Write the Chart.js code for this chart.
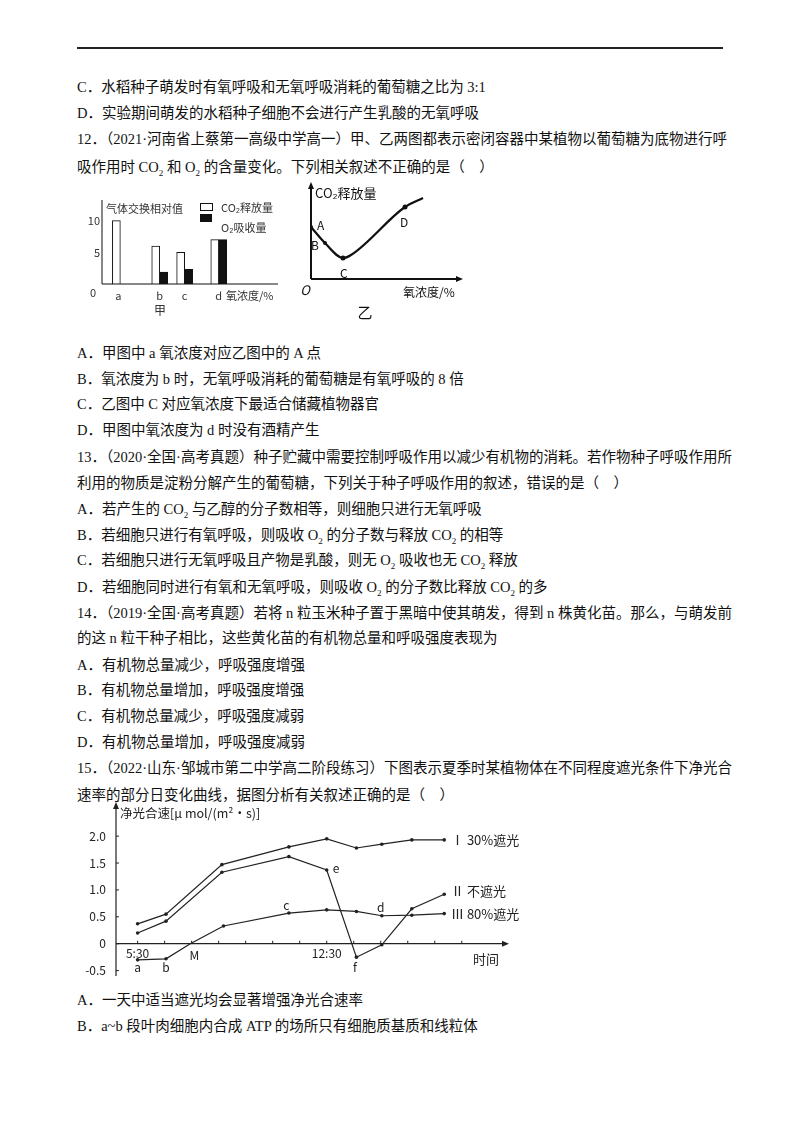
<!DOCTYPE html>
<html><head><meta charset="utf-8">
<script src="https://cdn.jsdelivr.net/npm/chart.js@4.4.0/dist/chart.umd.min.js"></script>
<style>
body{margin:0;width:800px;height:1132px;background:#fff;position:relative;font-family:"Liberation Serif","Noto Sans CJK SC",serif;color:#111;}
.l{position:absolute;left:77px;font-size:14.5px;line-height:20px;white-space:nowrap;}
.j{width:646px;text-align:justify;text-align-last:justify;}
sub{font-size:9px;line-height:0;}
#rule{position:absolute;left:77px;top:47px;width:646px;height:1.5px;background:#222;}
canvas{position:absolute;}
</style></head><body>
<div id="rule"></div>
<div class="l" style="top:77px">C．水稻种子萌发时有氧呼吸和无氧呼吸消耗的葡萄糖之比为 3:1</div>
<div class="l" style="top:103px">D．实验期间萌发的水稻种子细胞不会进行产生乳酸的无氧呼吸</div>
<div class="l j" style="top:129px">12．（2021·河南省上蔡第一高级中学高一）甲、乙两图都表示密闭容器中某植物以葡萄糖为底物进行呼</div>
<div class="l" style="top:157px">吸作用时 CO<sub>2</sub> 和 O<sub>2</sub> 的含量变化。下列相关叙述不正确的是（　）</div>
<div class="l" style="top:343px">A．甲图中 a 氧浓度对应乙图中的 A 点</div>
<div class="l" style="top:369px">B．氧浓度为 b 时，无氧呼吸消耗的葡萄糖是有氧呼吸的 8 倍</div>
<div class="l" style="top:394px">C．乙图中 C 对应氧浓度下最适合储藏植物器官</div>
<div class="l" style="top:420px">D．甲图中氧浓度为 d 时没有酒精产生</div>
<div class="l j" style="top:447px">13．（2020·全国·高考真题）种子贮藏中需要控制呼吸作用以减少有机物的消耗。若作物种子呼吸作用所</div>
<div class="l" style="top:473px">利用的物质是淀粉分解产生的葡萄糖，下列关于种子呼吸作用的叙述，错误的是（　）</div>
<div class="l" style="top:499px">A．若产生的 CO<sub>2</sub> 与乙醇的分子数相等，则细胞只进行无氧呼吸</div>
<div class="l" style="top:525px">B．若细胞只进行有氧呼吸，则吸收 O<sub>2</sub> 的分子数与释放 CO<sub>2</sub> 的相等</div>
<div class="l" style="top:550px">C．若细胞只进行无氧呼吸且产物是乳酸，则无 O<sub>2</sub> 吸收也无 CO<sub>2</sub> 释放</div>
<div class="l" style="top:577px">D．若细胞同时进行有氧和无氧呼吸，则吸收 O<sub>2</sub> 的分子数比释放 CO<sub>2</sub> 的多</div>
<div class="l j" style="top:603px">14．（2019·全国·高考真题）若将 n 粒玉米种子置于黑暗中使其萌发，得到 n 株黄化苗。那么，与萌发前</div>
<div class="l" style="top:628px">的这 n 粒干种子相比，这些黄化苗的有机物总量和呼吸强度表现为</div>
<div class="l" style="top:655px">A．有机物总量减少，呼吸强度增强</div>
<div class="l" style="top:680px">B．有机物总量增加，呼吸强度增强</div>
<div class="l" style="top:706px">C．有机物总量减少，呼吸强度减弱</div>
<div class="l" style="top:732px">D．有机物总量增加，呼吸强度减弱</div>
<div class="l j" style="top:758px">15．（2022·山东·邹城市第二中学高二阶段练习）下图表示夏季时某植物体在不同程度遮光条件下净光合</div>
<div class="l" style="top:785px">速率的部分日变化曲线，据图分析有关叙述正确的是（　）</div>
<div class="l" style="top:990px">A．一天中适当遮光均会显著增强净光合速率</div>
<div class="l" style="top:1016px">B．a~b 段叶肉细胞内合成 ATP 的场所只有细胞质基质和线粒体</div>
<canvas id="c1" style="left:80px;top:180px" width="200" height="145"></canvas>
<canvas id="c2" style="left:290px;top:180px" width="190" height="145"></canvas>
<canvas id="c3" style="left:80px;top:800px" width="450" height="180"></canvas>
<script>
// Chart 甲
const barCats=[0.9,3.9,5.8,8.4];
const barLabels=['a','b','c','d'];
const co2Release=[10,6,5,7];
const o2Absorb=[0,1.9,2.3,7];
// Chart 乙
const curveX=[0,14,32,40,94,112];
const curveY=[52,36,21,24,72,81];
// Chart 15
const hours=[0,1.05,3.12,5.6,7,8.1,9.04,10.15,11.35];
const s30=[0.37,0.55,1.47,1.8,1.95,1.78,1.85,1.93,1.93];
const sNone=[0.2,0.42,1.33,1.62,1.37,-0.25,-0.02,0.65,0.92];
const hours80=[0,1.05,1.95,3.18,5.6,7,8.1,9.04,10.15,11.35];
const s80=[-0.3,-0.28,0,0.33,0.57,0.63,0.6,0.52,0.53,0.56];
const yTicks=[2.0,1.5,1.0,0.5,0,-0.5];
const F='"Noto Sans CJK SC",sans-serif';
Chart.defaults.animation=false;Chart.defaults.responsive=false;
Chart.defaults.plugins.legend.display=false;Chart.defaults.plugins.tooltip.enabled=false;
function arrowV(c,x,y){c.beginPath();c.moveTo(x,y);c.lineTo(x-3,y+7);c.lineTo(x+3,y+7);c.closePath();c.fill();}
function arrowH(c,x,y){c.beginPath();c.moveTo(x,y);c.lineTo(x-7,y-3);c.lineTo(x-7,y+3);c.closePath();c.fill();}
function T(c,t,x,y,sz,al){c.font=(sz||12)+'px '+F;c.textAlign=al||'left';c.textBaseline='middle';c.fillText(t,x,y);}
const mk=(a,b)=>a.map((x,i)=>({x,y:b[i]}));

new Chart(document.getElementById('c1'),{type:'bar',
data:{datasets:[
{data:mk(barCats,co2Release),backgroundColor:'#fff',borderColor:'#111',borderWidth:1,barThickness:8},
{data:mk(barCats,o2Absorb),backgroundColor:'#111',borderColor:'#111',borderWidth:1,barThickness:8}]},
options:{layout:{padding:{left:22,right:14,top:28,bottom:41}},
scales:{x:{type:'linear',min:-0.5,max:12,display:false,offset:false},y:{min:0,max:12,display:false}}},
plugins:[{afterDraw(ch){const c=ch.ctx,x=ch.scales.x,y=ch.scales.y;c.save();c.fillStyle='#111';c.strokeStyle='#111';c.lineWidth=1;
const x0=x.getPixelForValue(-0.5),y0=y.getPixelForValue(0);
c.beginPath();c.moveTo(x0,y0);c.lineTo(x.getPixelForValue(12)+12,y0);c.moveTo(x0,y0);c.lineTo(x0,y.getPixelForValue(12)-8);c.stroke();
c.fillStyle='#333';T(c,'10',x0-2,y.getPixelForValue(10),11,'right');T(c,'5',x0-2,y.getPixelForValue(5),11,'right');T(c,'0',x0-6,y0+9,11,'right');
barLabels.forEach((l,i)=>T(c,l,x.getPixelForValue(barCats[i])+(i?0:-2),y0+12,11,'center'));
T(c,'氧浓度/%',146,y0+12,11);T(c,'甲',80,130,12,'center');T(c,'气体交换相对值',26,29,11);
c.strokeStyle='#111';c.strokeRect(120.5,23.5,12,7);c.fillStyle='#111';c.fillRect(120,34,12,8);
c.fillStyle='#333';T(c,'CO₂释放量',141,28,11);T(c,'O₂吸收量',141,48,11);c.restore();}}]});

new Chart(document.getElementById('c2'),{type:'line',
data:{datasets:[{data:mk(curveX,curveY),borderColor:'#111',borderWidth:2.2,tension:0.4,cubicInterpolationMode:'monotone',pointRadius:[2,2,2.5,0,2.5,0],pointBackgroundColor:'#111',pointBorderWidth:0}]},
options:{layout:{padding:{left:21,right:20,top:10,bottom:46}},
scales:{x:{type:'linear',min:0,max:149,display:false},y:{min:0,max:89,display:false}}},
plugins:[{afterDraw(ch){const c=ch.ctx,x=ch.scales.x,y=ch.scales.y;c.save();c.fillStyle='#111';c.strokeStyle='#111';c.lineWidth=2;
const x0=x.getPixelForValue(0),y0=y.getPixelForValue(0);
c.beginPath();c.moveTo(x0,y0);c.lineTo(x.getPixelForValue(149)-4,y0);c.moveTo(x0,y0);c.lineTo(x0,6);c.stroke();arrowH(c,x.getPixelForValue(149)+3,y0);arrowV(c,x0,2);
T(c,'CO₂释放量',x0+4,13,13);T(c,'A',x0+6,45,12);T(c,'B',x0,65,12);T(c,'C',x0+29,93,12);T(c,'D',x0+89,42,12);
c.font='italic 13px '+F;c.textAlign='center';c.fillText('O',x0-6,y0+11);T(c,'氧浓度/%',x0+92,y0+13,12);T(c,'乙',x0+54,y0+33,15,'center');c.restore();}}]});

new Chart(document.getElementById('c3'),{type:'line',
data:{datasets:[
{data:mk(hours,s30),borderColor:'#222',borderWidth:1.2,pointRadius:1.8,pointBackgroundColor:'#222',pointBorderWidth:0},
{data:mk(hours,sNone),borderColor:'#222',borderWidth:1.2,pointRadius:1.8,pointBackgroundColor:'#222',pointBorderWidth:0},
{data:mk(hours80,s80),borderColor:'#222',borderWidth:1.2,pointRadius:[1.8,1.8,0,1.8,1.8,1.8,1.8,1.8,1.8,1.8],pointBackgroundColor:'#222',pointBorderWidth:0}]},
options:{layout:{padding:{left:36,right:25,top:20,bottom:4}},
scales:{x:{type:'linear',min:-0.8,max:13.6,display:false},y:{min:-0.6,max:2.3,display:false}}},
plugins:[{afterDraw(ch){const c=ch.ctx,x=ch.scales.x,y=ch.scales.y;c.save();c.fillStyle='#222';c.strokeStyle='#222';c.lineWidth=1.2;
const x0=x.getPixelForValue(-0.8),y0=y.getPixelForValue(0);
c.beginPath();c.moveTo(x0,y.getPixelForValue(-0.6));c.lineTo(x0,6);c.moveTo(x0,y0);c.lineTo(x.getPixelForValue(13.6),y0);c.stroke();arrowV(c,x0,2);arrowH(c,x.getPixelForValue(13.6)+4,y0);
c.lineWidth=1;c.beginPath();for(let h=0;h<=12.5;h+=1){const p=x.getPixelForValue(h);c.moveTo(p,y0);c.lineTo(p,y0-3);}
yTicks.forEach(v=>{const p=y.getPixelForValue(v);c.moveTo(x0,p);c.lineTo(x0+3,p);});c.stroke();
yTicks.forEach(v=>T(c,v===0?'0':v.toFixed(1),x0-10,y.getPixelForValue(v),12,'right'));
T(c,'净光合速[μ mol/(m²•s)]',x0+4,13,12.5);
T(c,'5:30',x.getPixelForValue(0),y0+10,12,'center');T(c,'12:30',x.getPixelForValue(7),y0+10,12,'center');
T(c,'a',x.getPixelForValue(0),y0+24,12,'center');T(c,'b',x.getPixelForValue(1.05),y0+24,12,'center');T(c,'M',x.getPixelForValue(2.1),y0+12,12,'center');
T(c,'c',x.getPixelForValue(5.5),y.getPixelForValue(0.72),12,'center');T(c,'d',x.getPixelForValue(9.0),y.getPixelForValue(0.67),12,'center');
T(c,'e',x.getPixelForValue(7.35),y.getPixelForValue(1.4),12,'center');T(c,'f',x.getPixelForValue(8.05),y.getPixelForValue(-0.45),12,'center');
T(c,'时间',x.getPixelForValue(12.9),y0+15,13,'center');
T(c,'Ⅰ 30%遮光',x.getPixelForValue(11.6),y.getPixelForValue(1.93),13);T(c,'Ⅱ 不遮光',x.getPixelForValue(11.6),y.getPixelForValue(0.97),13);T(c,'Ⅲ 80%遮光',x.getPixelForValue(11.6),y.getPixelForValue(0.55),13);
c.restore();}}]});
</script></body></html>
